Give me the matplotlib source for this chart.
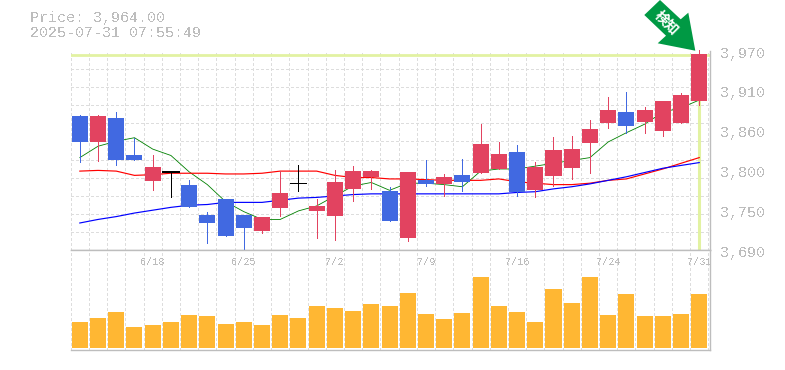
import matplotlib
matplotlib.use('Agg')
import matplotlib.pyplot as plt
from matplotlib.patches import Polygon

# daily candles
opens = [3878, 3842, 3876, 3824, 3787, 3800, 3782, 3739, 3762, 3739, 3717, 3749, 3784, 3745, 3738, 3776, 3793, 3773,
         3707, 3788, 3783, 3796, 3799, 3804, 3828, 3774, 3794, 3806, 3841, 3869, 3884, 3870, 3858, 3869, 3900]
closes = [3842, 3878, 3816, 3817, 3807, 3800, 3751, 3728, 3710, 3721, 3736, 3770, 3784, 3752, 3786, 3801, 3801, 3731,
          3800, 3783, 3793, 3785, 3839, 3825, 3772, 3807, 3831, 3832, 3860, 3887, 3865, 3887, 3900, 3908, 3966]
highs = [3880, 3880, 3884, 3848, 3824, 3800, 3788, 3743, 3762, 3739, 3736, 3801, 3810, 3762, 3803, 3808, 3803, 3779,
         3800, 3817, 3797, 3818, 3867, 3842, 3838, 3814, 3849, 3850, 3873, 3905, 3912, 3891, 3900, 3911, 3971]
lows = [3814, 3815, 3810, 3816, 3775, 3765, 3751, 3700, 3710, 3689, 3714, 3738, 3773, 3707, 3704, 3759, 3776, 3731,
        3703, 3780, 3766, 3773, 3799, 3804, 3766, 3765, 3780, 3790, 3799, 3861, 3855, 3855, 3851, 3868, 3894]
volumes = [25.7, 29.7, 35.7, 20.7, 22.7, 25.7, 32.7, 31.7, 23.7, 25.7, 22.7, 32.7, 29.7, 41.7, 39.7, 36.7, 43.7, 41.7,
           54.7, 33.7, 28.7, 34.7, 70.7, 41.7, 35.7, 25.7, 58.7, 44.7, 70.7, 32.7, 53.7, 31.7, 31.7, 33.7, 53.7]

# moving averages
ma_green = [3820, 3836, 3843, 3848, 3832, 3823, 3800, 3782, 3758, 3744, 3733, 3733, 3745, 3752, 3766, 3780, 3785, 3774,
            3784, 3784, 3782, 3779, 3801, 3804, 3804, 3808, 3812, 3816, 3820, 3842, 3855, 3867, 3884, 3890, 3901]
ma_red = [3801, 3802, 3801, 3795, 3796, 3798, 3798, 3798, 3797, 3797, 3798, 3801, 3801, 3801, 3795, 3792, 3792, 3790,
          3790, 3789, 3788, 3788, 3788, 3790, 3786, 3784, 3782, 3782, 3784, 3788, 3790, 3797, 3804, 3812, 3820]
ma_blue = [3728, 3733, 3737, 3742, 3746, 3750, 3753, 3754, 3757, 3757, 3757, 3760, 3763, 3764, 3766, 3768, 3769, 3769,
           3769, 3769, 3769, 3769, 3769, 3769, 3771, 3772, 3776, 3779, 3783, 3788, 3793, 3799, 3805, 3809, 3813]

date_ticks = [4, 9, 14, 19, 24, 29, 34]
date_labels = ['6/18', '6/25', '7/2', '7/9', '7/16', '7/24', '7/31']
price_ticks = [3970, 3914, 3858, 3802, 3746, 3690]
price_labels = ['3,970', '3,910', '3,860', '3,800', '3,750', '3,690']
last_price = 3965

RED = '#e24360'
BLUE = '#4169e1'
ORANGE = '#ffb733'
GREY = '#bdbdbd'
GRID = '#dddddd'
MONO = 'Liberation Mono'
W, H = 785, 370

plt.rcParams['text.antialiased'] = False


def axes_box(left, top, right, bottom):
    return [left / W, 1 - bottom / H, (right - left) / W, (bottom - top) / H]


def style_axes(ax):
    ax.set_xlim(-0.5, 34.59)
    ax.set_xticks([i - 0.5 for i in range(36)], minor=True)
    ax.grid(True, which='minor', axis='both', color=GRID, lw=0.72, ls=(0, (2.4, 2.4)), antialiased=False)
    ax.grid(False, which='major')
    ax.set_axisbelow(True)
    ax.tick_params(which='both', length=0)
    ax.spines['left'].set_visible(False)
    for s in ['top', 'right', 'bottom']:
        ax.spines[s].set_color(GREY)
        ax.spines[s].set_linewidth(1.0)


fig = plt.figure(figsize=(W / 100, H / 100), dpi=100)
ax = fig.add_axes(axes_box(70.7, 51, 710, 250))
ax_vol = fig.add_axes(axes_box(70.7, 250, 710, 350))

# price panel
style_axes(ax)
ax.spines['top'].set_visible(False)
ax.set_ylim(3690, 3970)
ax.set_yticks([3690 + 280 * i / 11 for i in range(12)], minor=True)
ax.set_yticks(price_ticks)
ax.yaxis.tick_right()
ax.tick_params(axis='y', which='major', labelright=False)
ax.set_xticks(date_ticks)
ax.set_xticklabels([])
for p, lab in zip(price_ticks, price_labels):
    ax.annotate(lab, (1, p), xycoords=('axes fraction', 'data'), xytext=(7.2, -1.9), textcoords='offset points',
                family=MONO, fontsize=10.8, color=GREY, va='center', annotation_clip=False)

# last price lines
ax.axhline(last_price, color='#e2f2a2', lw=2.0, zorder=1.5)
ax.plot([34, 34], [3691, last_price], color='#e2f2a2', lw=2.2, zorder=1.5)

ax.plot(ma_green, color='green', lw=0.6, zorder=2)
ax.plot(ma_red, color='red', lw=0.85, zorder=2)
ax.plot(ma_blue, color='blue', lw=0.85, zorder=2)

for i in range(35):
    o, c = opens[i], closes[i]
    if o == c:
        col = 'black'
    elif c > o:
        col = RED
    else:
        col = BLUE
    ax.plot([i, i], [lows[i], highs[i]], color=col, lw=0.72, zorder=3, antialiased=False, clip_on=False)
    if o == c:
        # the T shaped doji has a heavier bar than the cross
        ax.plot([i - 0.44, i + 0.44], [o, o], color=col, lw=1.4 if highs[i] == o else 0.72, zorder=3, antialiased=False)
    else:
        ax.bar(i, abs(c - o), bottom=min(o, c), width=0.88, color=col, zorder=3, antialiased=False)

# volume panel
style_axes(ax_vol)
ax_vol.set_ylim(-2.3, 97.7)
ax_vol.set_yticks([])
ax_vol.set_xticks(date_ticks)
ax_vol.set_xticklabels([])
ax_vol.bar(range(35), volumes, width=0.88, color=ORANGE, zorder=3, antialiased=False)
for t, lab in zip(date_ticks, date_labels):
    ax_vol.text(t, 97.7 - 12.3, lab, family=MONO, fontsize=7.3, color=GREY, ha='center', va='center', zorder=4)

# header
fig.text(30 / W, 1 - 18 / H, 'Price: 3,964.00', family=MONO, fontsize=10.8, color=GREY, va='center')
fig.text(30 / W, 1 - 33 / H, '2025-07-31 07:55:49', family=MONO, fontsize=10.8, color=GREY, va='center')

# signal arrow
arrow_px = [(644.3, 15), (660, 0), (680.7, 19.3), (688.3, 12.7), (695.3, 50.7), (657.7, 43.3), (666, 35.7)]
fig.add_artist(Polygon([(x / W, 1 - y / H) for x, y in arrow_px], closed=True, transform=fig.transFigure,
                       facecolor='#009944', edgecolor='none'))
fig.text(666.7 / W, 1 - 23 / H, '検知', family='Noto Sans CJK JP', fontweight='bold', fontsize=10, color='white',
         rotation=-45, ha='center', va='center', rotation_mode='anchor', antialiased=True)

fig.savefig('out.png', dpi=100)
